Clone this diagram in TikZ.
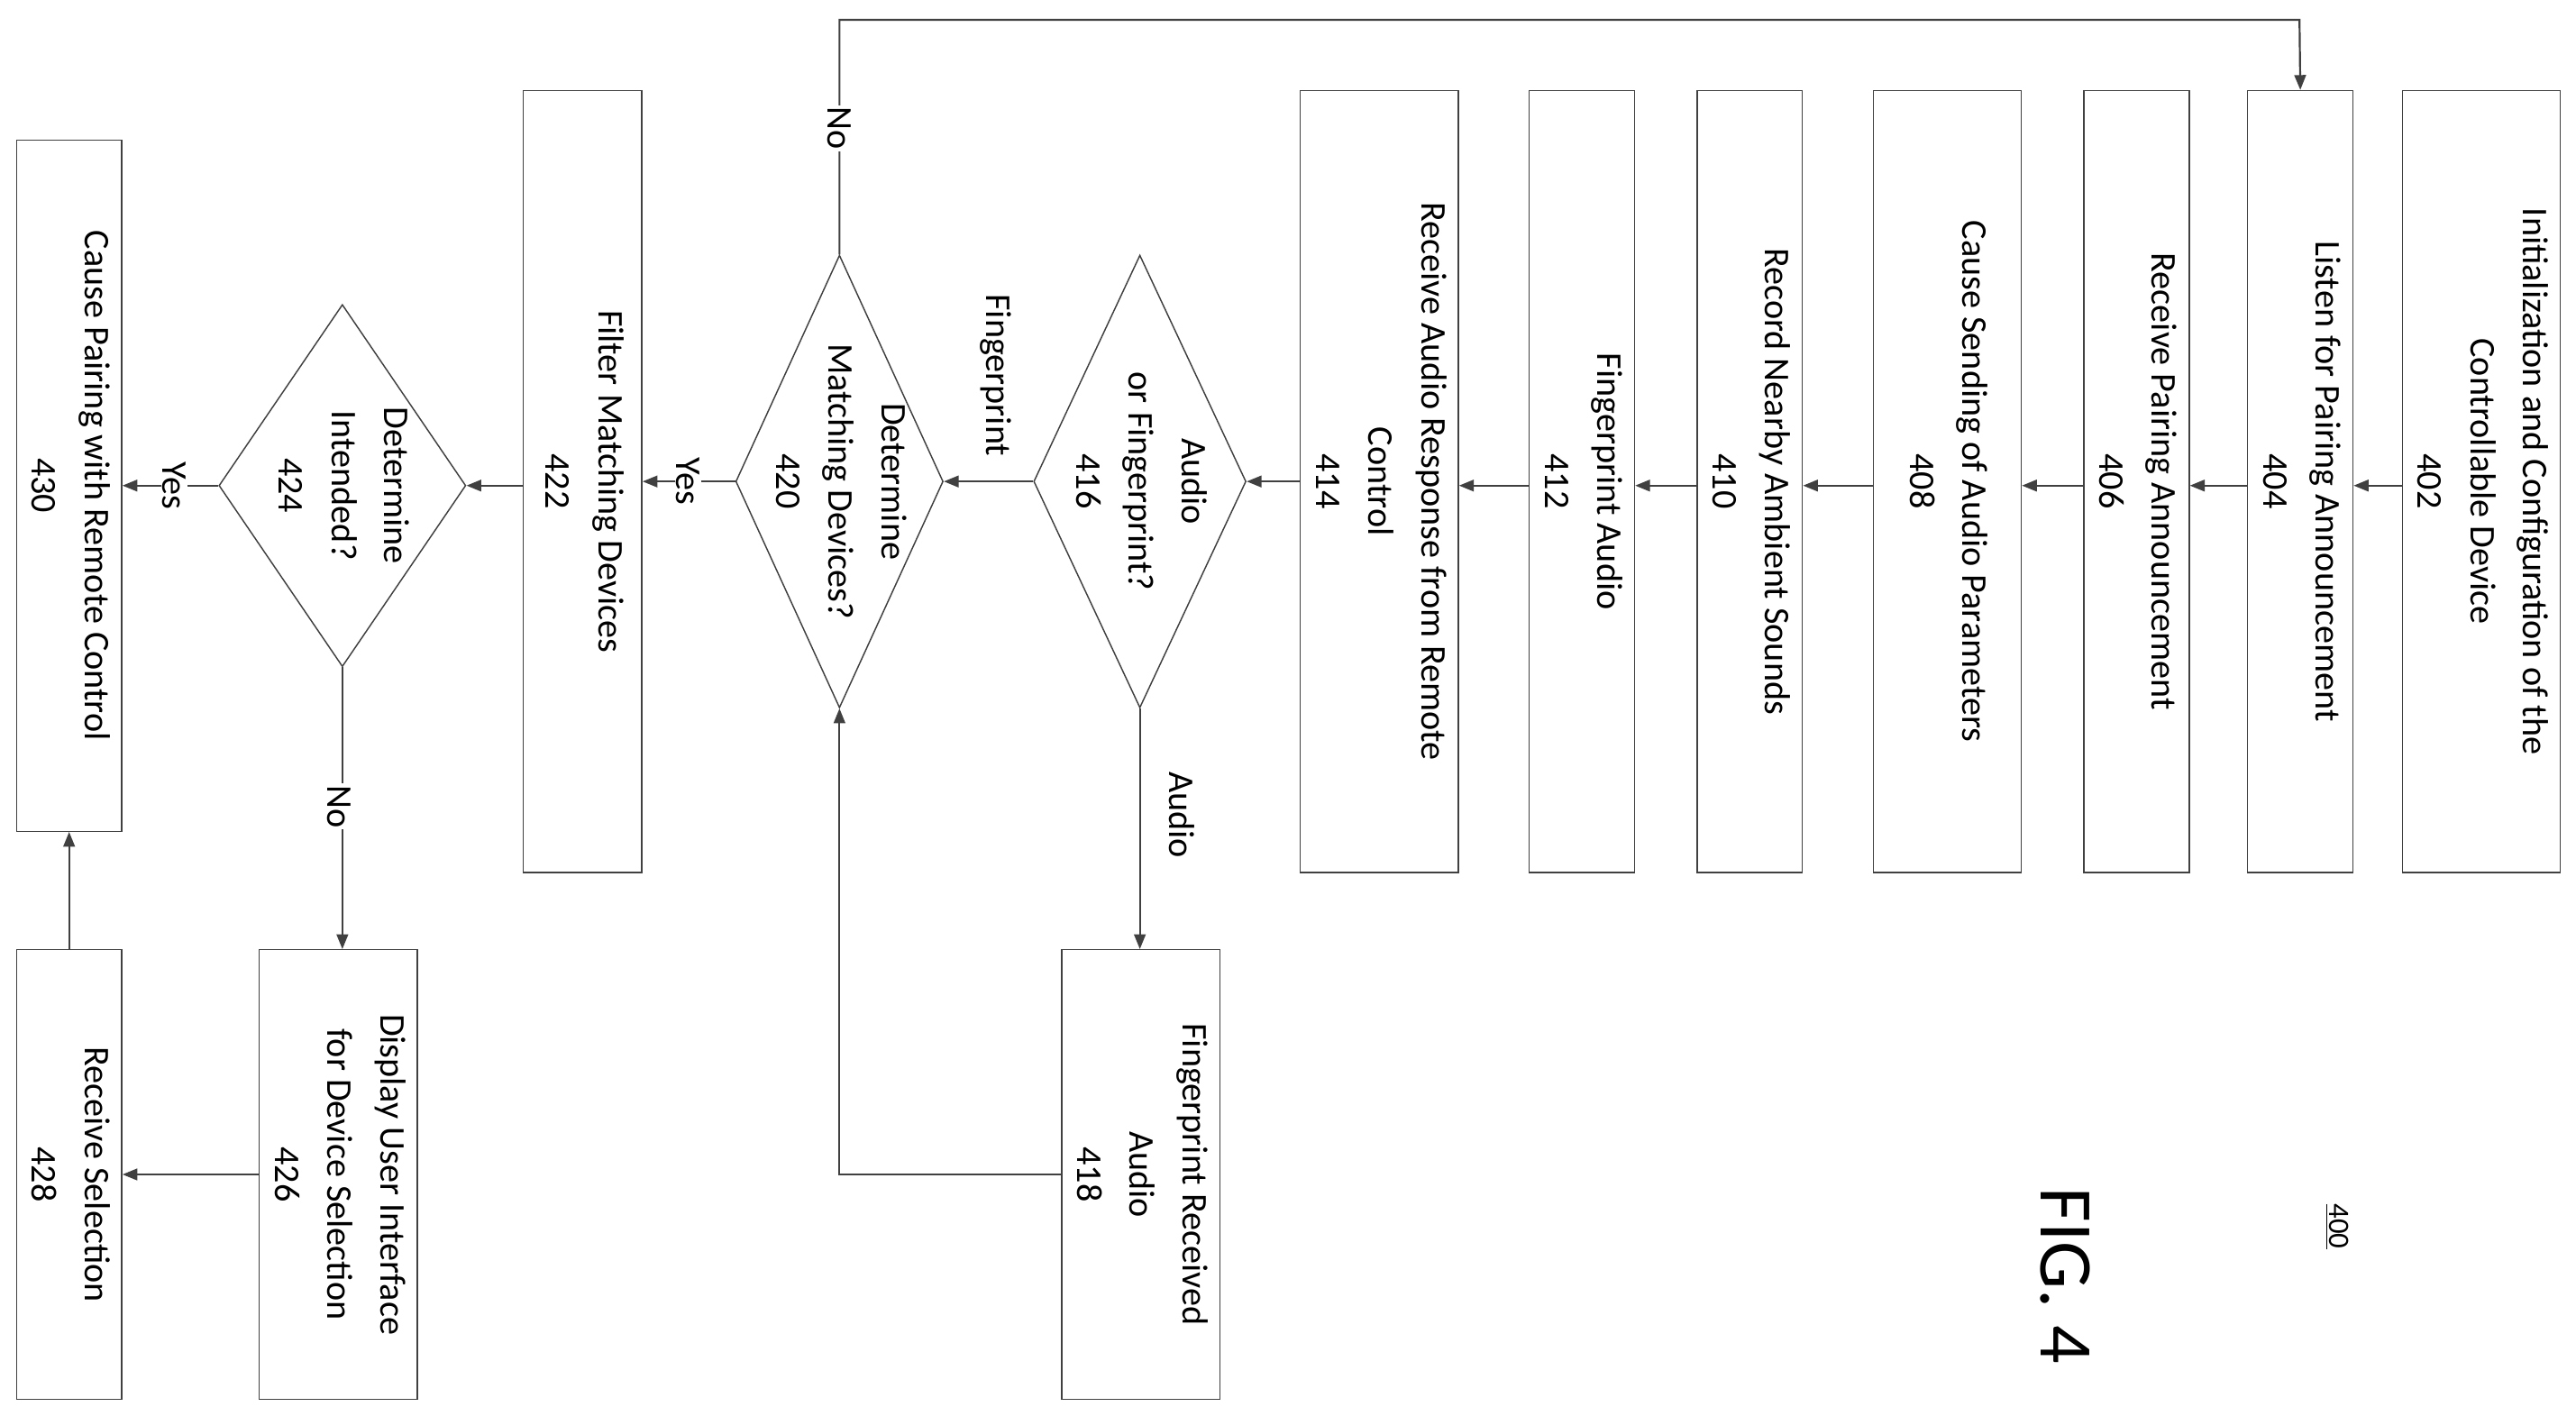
\documentclass[tikz,border=0pt]{standalone}
\usepackage{fontspec}
\setmainfont{Carlito}
\usetikzlibrary{shapes.geometric,arrows.meta}
\begin{document}
\begin{tikzpicture}[x=1pt,y=-1pt,
  box/.style={draw=black!75,line width=0.8pt,inner sep=0pt,font=\fontsize{22}{32}\selectfont},
  dia/.style={diamond,draw=black!75,line width=0.8pt,inner sep=0pt},
  dtext/.style={font=\fontsize{22}{32}\selectfont,inner sep=0pt},
  arr/.style={draw=black!75,line width=1.2pt,-{Triangle[length=9pt,width=7pt]}},
  lab/.style={font=\fontsize{22}{32}\selectfont,fill=white,inner sep=1pt},
  side/.style={font=\fontsize{22}{32}\selectfont,inner sep=1pt}]
\useasboundingbox (0,0) rectangle (1565,860);
\newcommand{\bx}[5]{\node[box,minimum width=#3,minimum height=#4] (#1) at (#2) {\rotatebox{-90}{\begin{tabular}{@{}c@{}}#5\end{tabular}}};}
\bx{n402}{1507.5,292.5}{85}{475}{Initialization and Configuration of the\\Controllable Device\\402}
\bx{n404}{1397.5,292.5}{61}{475}{Listen for Pairing Announcement\\404}
\bx{n406}{1298,292.5}{60}{475}{Receive Pairing Announcement\\406}
\bx{n408}{1183,292.5}{90}{475}{Cause Sending of Audio Parameters\\408}
\bx{n410}{1063,292.5}{60}{475}{Record Nearby Ambient Sounds\\410}
\bx{n412}{961,292.5}{62}{475}{Fingerprint Audio\\412}
\bx{n414}{838,292.5}{92}{475}{Receive Audio Response from Remote\\Control\\414}
\bx{n418}{693,713.5}{90}{273}{Fingerprint Received\\Audio\\418}
\bx{n422}{354,292.5}{72}{475}{Filter Matching Devices\\422}
\bx{n426}{205.5,713.5}{95}{273}{Display User Interface\\for Device Selection\\426}
\bx{n428}{42,713.5}{60}{273}{Receive Selection\\428}
\bx{n430}{42,295}{60}{420}{Cause Pairing with Remote Control\\430}
\node[dia,minimum width=129,minimum height=275] (n416) at (692.5,292.5) {};
\node[dtext] at (n416) {\rotatebox{-90}{\begin{tabular}{@{}c@{}}Audio\\or Fingerprint?\\416\end{tabular}}};
\node[dia,minimum width=126,minimum height=275] (n420) at (510,292.5) {};
\node[dtext] at (n420) {\rotatebox{-90}{\begin{tabular}{@{}c@{}}Determine\\Matching Devices?\\420\end{tabular}}};
\node[dia,minimum width=150,minimum height=220] (n424) at (208,295) {};
\node[dtext] at (n424) {\rotatebox{-90}{\begin{tabular}{@{}c@{}}Determine\\Intended?\\424\end{tabular}}};
\draw[arr] (n402.west |- 0,295) -- (n404.east |- 0,295);
\draw[arr] (n404.west |- 0,295) -- (n406.east |- 0,295);
\draw[arr] (n406.west |- 0,295) -- (n408.east |- 0,295);
\draw[arr] (n408.west |- 0,295) -- (n410.east |- 0,295);
\draw[arr] (n410.west |- 0,295) -- (n412.east |- 0,295);
\draw[arr] (n412.west |- 0,295) -- (n414.east |- 0,295);
\draw[arr] (n414.west |- 0,292.5) -- (n416.east);
\draw[arr] (n416.west) -- (n420.east);
\node[side] at (605,228) {\rotatebox{-90}{Fingerprint}};
\draw[arr] (n416.south) -- (n416.south |- n418.north);
\node[side] at (718,495) {\rotatebox{-90}{Audio}};
\draw[arr] (n418.west) -| (n420.south);
\coordinate (c1) at (510,12);
\coordinate (c2) at (1397,12);
\draw[arr] (n420.north) -- (c1) -- (c2) -- (n404.north);
\node[lab] at (510,78) {\rotatebox{-90}{No}};
\draw[arr] (n420.west) -- (n422.east |- n420.west);
\node[lab] at (418,292.5) {\rotatebox{-90}{Yes}};
\draw[arr] (n422.west |- n424.east) -- (n424.east);
\draw[arr] (n424.west) -- (n430.east |- n424.west);
\node[lab] at (106,295) {\rotatebox{-90}{Yes}};
\draw[arr] (n424.south) -- (n424.south |- n426.north);
\node[lab] at (206,490) {\rotatebox{-90}{No}};
\draw[arr] (n426.west) -- (n428.east);
\draw[arr] (n428.north) -- (n430.south);
\node[font=\fontsize{46}{50}\selectfont] (fig) at (1255,775) {\rotatebox{-90}{FIG. 4}};
\node[font=\fontsize{18}{20}\selectfont] (num) at (1420,745) {\rotatebox{-90}{\underline{400}}};
\end{tikzpicture}
\end{document}
